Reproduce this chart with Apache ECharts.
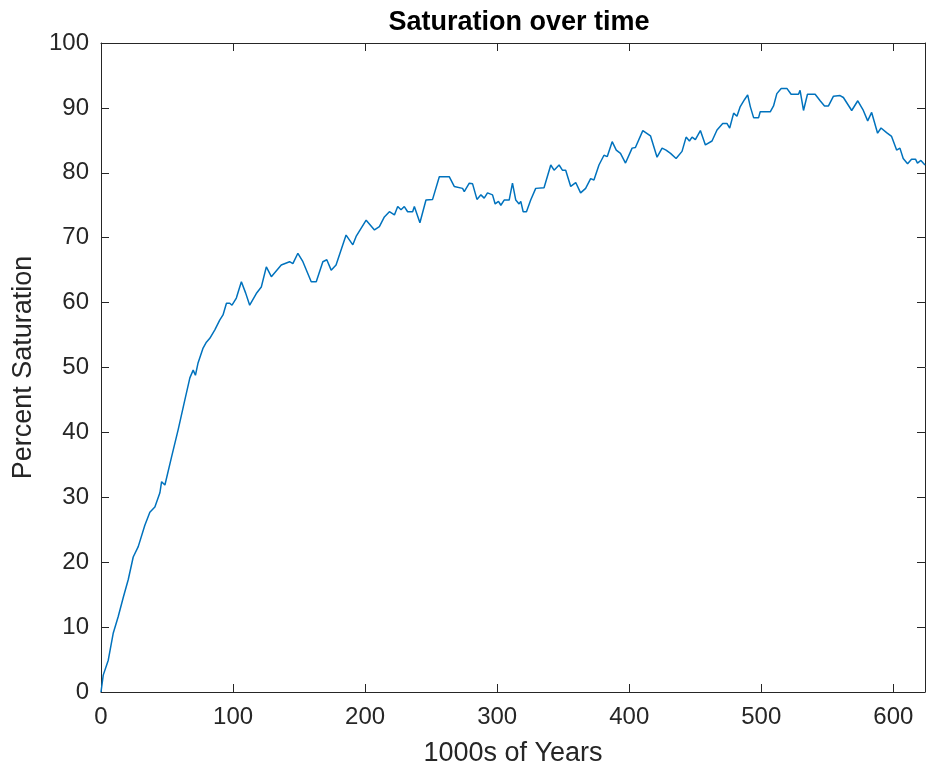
<!DOCTYPE html>
<html>
<head>
<meta charset="utf-8">
<title>Saturation over time</title>
<script src="https://cdn.jsdelivr.net/npm/echarts@6/dist/echarts.min.js"></script>
<style>
  html, body { margin: 0; padding: 0; background: #ffffff; }
  #chart { width: 932px; height: 774px; }
</style>
</head>
<body>
<div id="chart"></div>
<script>
// Time in thousands of years
var years = [
  0, 1.7, 5.5, 9.3, 13, 16.9, 20.6, 24.4, 28.2, 33.2, 37, 40.8, 44.6, 45.9, 48.4,
  53.4, 58.4, 63.5, 67.3, 69.8, 71.5, 73.5, 77.3, 79.8, 82.4, 86.2, 89.9, 92.4,
  95, 97.5, 99.2, 102.5, 104.3, 106.3, 109.5, 112.6, 117.6, 121.4, 125.2, 129,
  136.5, 142.8, 145.3, 149.1, 152.9, 159.2, 163, 168, 171, 174.3, 178, 185.6,
  190.7, 193.2, 200.8, 207.1, 210.8, 214.6, 218.4, 222.2, 224.7, 227.2, 229.7,
  232.2, 236, 237.3, 241.5, 246.1, 251.1, 256.2, 263.7, 267.5, 273.8, 275.1,
  278.9, 281.4, 284.7, 287.7, 290.2, 292.7, 296.5, 298.5, 301, 302.8, 305.3,
  309.1, 311.6, 314.1, 316.6, 317.9, 319.7, 322.2, 325.4, 329.2, 335.5, 340.6,
  343.1, 346.9, 349.4, 351.9, 355.7, 359.5, 363.2, 367, 370.8, 373.3, 377.1,
  380.9, 383.4, 387.1, 390.2, 393.4, 397.2, 402.2, 404.7, 410.3, 416.1, 421.1,
  424.9, 427.9, 431.3, 435.5, 440, 443.1, 445.6, 447.6, 450.1, 453.9, 457.7,
  462.7, 466.5, 470.8, 474, 476.1, 479.1, 481.6, 484.1, 487.4, 489.7, 491.7,
  494.2, 498, 499.2, 506.8, 509.3, 511.8, 515.1, 519.4, 522.6, 528.2, 529.4,
  532, 535, 540.8, 544.6, 547.9, 550.9, 554.7, 559.7, 562.2, 568.5, 573.1,
  577.3, 580.6, 583.6, 588.1, 590.7, 594.9, 598.7, 602.5, 605, 607.5, 610.8,
  613.8, 616.8, 618.3, 620.9, 624
];

// Percent saturation at each time
var saturation = [
  0, 2.6, 4.9, 9.1, 11.6, 14.6, 17.3, 20.8, 22.4, 25.7, 27.7, 28.5, 30.7, 32.4, 31.9,
  36.2, 40.4, 45, 48.4, 49.6, 48.8, 50.7, 53, 53.9, 54.5, 55.8, 57.3, 58.1,
  59.9, 59.9, 59.6, 60.7, 61.9, 63.2, 61.5, 59.6, 61.4, 62.4, 65.5, 64,
  65.8, 66.3, 66, 67.6, 66.3, 63.2, 63.2, 66.3, 66.6, 65, 65.8, 70.4,
  68.9, 70.2, 72.7, 71.2, 71.7, 73.2, 74, 73.5, 74.8, 74.3, 74.8,
  74, 74, 74.8, 72.3, 75.8, 75.9, 79.4, 79.4, 77.9, 77.6, 77.1,
  78.4, 78.3, 75.9, 76.6, 76.1, 76.9, 76.6, 75.2, 75.6, 75, 75.8,
  75.8, 78.4, 75.8, 75.2, 75.6, 74, 74, 75.8, 77.6, 77.7, 81.2,
  80.4, 81.2, 80.4, 80.4, 77.9, 78.5, 76.9, 77.6, 79.1, 78.9, 81.2,
  82.7, 82.5, 84.8, 83.5, 83, 81.5, 83.8, 83.9, 86.5, 85.7, 82.4,
  83.8, 83.5, 83, 82.2, 83.3, 85.5, 84.9, 85.5, 85.1, 86.5, 84.3,
  84.9, 86.6, 87.6, 87.6, 86.9, 89.2, 88.7, 90.2, 91.3, 92, 90.2,
  88.5, 88.5, 89.4, 89.4, 90.3, 92.2, 93, 93, 92.1, 92.1, 92.7,
  89.6, 92.1, 92.1, 91.1, 90.3, 90.3, 91.8, 91.9, 91.6, 89.6, 91.1,
  89.6, 88, 89.3, 86.1, 86.9, 86.2, 85.6, 83.5, 83.8, 82.2, 81.4,
  82.1, 82.1, 81.5, 81.9, 81.2
];

var xTicks = [0, 100, 200, 300, 400, 500, 600];
var yTicks = [0, 10, 20, 30, 40, 50, 60, 70, 80, 90, 100];

var points = years.map(function (t, i) { return [t, saturation[i]]; });

var axisColor = '#262626';
var textColor = '#262626';
var fontFamily = '"Liberation Sans", Arial, Helvetica, sans-serif';

function tickLabel(list) {
  return function (v) {
    return list.indexOf(Math.round(v * 1000) / 1000) >= 0 ? String(v) : '';
  };
}

var frameAxis = {
  axisLine: { show: true, onZero: false, lineStyle: { color: axisColor, width: 1 } },
  axisTick: { show: true, inside: true, length: 8, lineStyle: { color: axisColor, width: 1 } },
  splitLine: { show: false }
};

var chart = echarts.init(document.getElementById('chart'), null, { renderer: 'canvas' });

chart.setOption({
  backgroundColor: '#ffffff',
  animation: false,
  title: {
    text: 'Saturation over time',
    left: 514,
    top: 4,
    textAlign: 'center',
    textStyle: { fontFamily: fontFamily, fontSize: 27, fontWeight: 'bold', color: '#000000' }
  },
  grid: { left: 101, right: 7, top: 43, bottom: 82, containLabel: false },
  xAxis: [
    Object.assign({}, frameAxis, {
      type: 'value', position: 'bottom', min: 0, max: 624, interval: 100,
      name: '1000s of Years', nameLocation: 'middle', nameGap: 48,
      nameTextStyle: { fontFamily: fontFamily, fontSize: 27, color: textColor },
      axisLabel: { show: true, formatter: tickLabel(xTicks), margin: 13,
        fontFamily: fontFamily, fontSize: 24, color: textColor }
    }),
    Object.assign({}, frameAxis, {
      type: 'value', position: 'top', min: 0, max: 624, interval: 100,
      axisLabel: { show: false }
    })
  ],
  yAxis: [
    Object.assign({}, frameAxis, {
      type: 'value', position: 'left', min: 0, max: 100, interval: 10,
      name: 'Percent Saturation', nameLocation: 'middle', nameGap: 64,
      nameTextStyle: { fontFamily: fontFamily, fontSize: 27, color: textColor },
      axisLabel: { show: true, formatter: tickLabel(yTicks), margin: 12,
        fontFamily: fontFamily, fontSize: 24, color: textColor }
    }),
    Object.assign({}, frameAxis, {
      type: 'value', position: 'right', min: 0, max: 100, interval: 10,
      axisLabel: { show: false }
    })
  ],
  series: [{
    type: 'line',
    data: points,
    xAxisIndex: 0,
    yAxisIndex: 0,
    showSymbol: false,
    smooth: false,
    lineStyle: { color: '#0072BD', width: 1.5 },
    z: 3
  }]
});
</script>
</body>
</html>
